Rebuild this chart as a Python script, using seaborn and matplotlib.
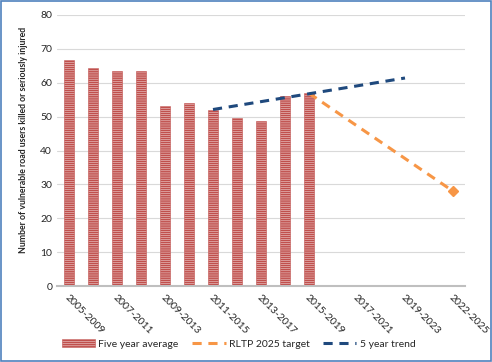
import matplotlib
matplotlib.use("Agg")
import matplotlib.pyplot as plt
import seaborn as sns
import pandas as pd
from matplotlib.patches import Rectangle

# five-year periods shown on the x axis (only every other one is labelled)
periods = [
    "2005-2009", "2006-2010", "2007-2011", "2008-2012", "2009-2013", "2010-2014",
    "2011-2015", "2012-2016", "2013-2017", "2014-2018", "2015-2019", "2016-2020",
    "2017-2021", "2018-2022", "2019-2023", "2020-2024", "2022-2025",
]
avg_periods = periods[:11]
avg_values = [66.7, 64.4, 63.4, 63.4, 53.1, 54.0, 52.0, 49.6, 48.7, 56.1, 56.9]

target_periods = ["2015-2019", "2022-2025"]
target_values = [56.9, 28.0]

trend_periods = ["2011-2015", "2019-2023"]
trend_values = [52.1, 61.4]

red = "#C0504D"
orange = "#F79646"
navy = "#1F497D"

sns.set_theme(style="white")
plt.rcParams["font.family"] = ["Lato", "DejaVu Sans"]
plt.rcParams["hatch.color"] = red
plt.rcParams["hatch.linewidth"] = 1.2

fig = plt.figure(figsize=(4.92, 3.62), dpi=100)
ax = fig.add_axes([57 / 492, 1 - 286 / 362, 408 / 492, 271 / 362])

df = pd.DataFrame({"period": avg_periods, "value": avg_values})
sns.barplot(data=df, x="period", y="value", order=periods, width=0.42,
            color="white", edgecolor=red, linewidth=0.4, hatch="--------",
            ax=ax)
bar_handle = Rectangle((0, 0), 1, 1, facecolor="white", edgecolor=red,
                       lw=0.4, hatch="--------")

pos = {p: i for i, p in enumerate(periods)}
target_line, = ax.plot([pos[p] for p in target_periods], target_values,
                       color=orange, lw=2.2, dashes=(3, 2.2))
ax.plot([pos[target_periods[-1]]], [target_values[-1]], marker="D", ms=5,
        color=orange, ls="none")
trend_line, = ax.plot([pos[p] for p in trend_periods], trend_values,
                      color=navy, lw=2.2, dashes=(3, 2.2))

ax.set_ylim(0, 80)
ax.set_xlim(-0.5, len(periods) - 0.5)
ax.set_yticks(range(0, 81, 10))
ax.yaxis.grid(True, color="#D9D9D9", lw=0.8)
ax.set_axisbelow(True)
for s in ["left", "right", "top"]:
    ax.spines[s].set_visible(False)
ax.spines["bottom"].set_color("#BFBFBF")
ax.spines["bottom"].set_linewidth(1.5)

ax.set_xticks(range(0, len(periods), 2))
ax.set_xticklabels(periods[::2], rotation=-45, ha="left", va="top",
                   rotation_mode="anchor", fontsize=7)
ax.tick_params(axis="both", length=0, labelsize=7.5, colors="#262626")
ax.tick_params(axis="x", pad=5)
ax.set_xlabel("")
ax.set_ylabel("Number of vulnerable road users killed or seriously injured",
              fontsize=6.3, fontweight="bold")
ax.yaxis.set_label_coords(-0.07, (286 - 140) / 271)

fig.legend([bar_handle, target_line, trend_line],
           ["Five year average", "RLTP 2025 target", "5 year trend"],
           loc="center", bbox_to_anchor=(0.485, 1 - 344 / 362),
           ncol=3, frameon=False, fontsize=7.5, handlelength=3.2,
           columnspacing=1.3, handletextpad=0.3)

fig.patches.append(Rectangle((0.002, 0.003), 0.996, 0.994, transform=fig.transFigure,
                             fill=False, edgecolor="#4F81BD", lw=1.2))

fig.savefig("out.png", dpi=100)
